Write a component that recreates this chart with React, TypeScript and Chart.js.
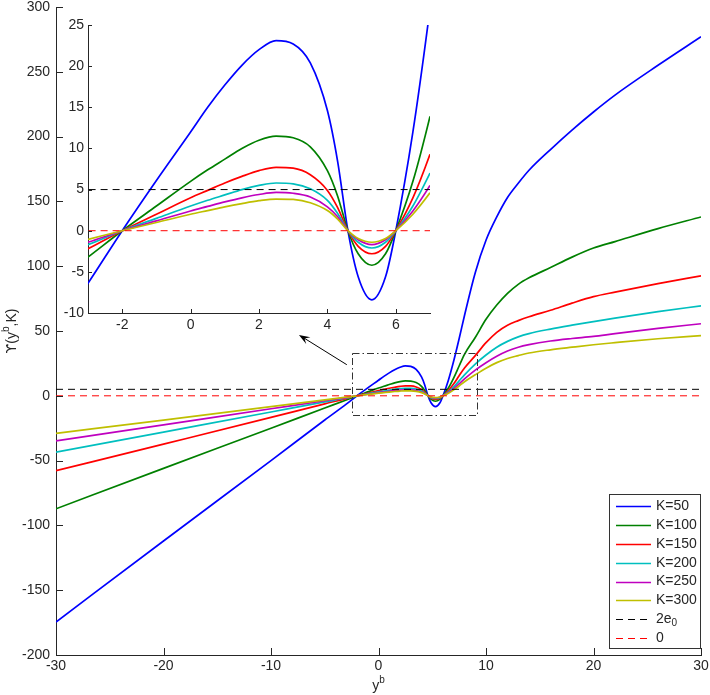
import { useEffect, useRef } from 'react';
import { Chart, registerables } from 'chart.js';

Chart.register(...registerables);

// ---------- data ----------
const Y_B = [-30, -20, -10, -5, -3, -2, -1, 0, 0.5, 1, 1.5, 2, 2.5, 3, 3.5, 4, 4.3, 4.6, 4.9, 5.3, 5.7, 6, 6.5, 7, 7.5, 8, 9, 10, 11, 12, 13, 14, 16, 18, 20, 22, 26, 30];

const K50 = [-174.5, -112, -50, -18.7, -6.4, 0, 6.1, 12, 15, 17.7, 20.1, 22, 23.1, 22.7, 20.4, 14.6, 8.4, 0, -5.6, -8.4, -5.6, 0, 12, 27, 44, 62, 95, 120, 138, 153, 164, 174, 190, 205, 219, 232, 255, 277];
const K100 = [-87.2, -56, -25, -9.4, -3.2, 0, 3, 6, 7.4, 8.7, 10, 11, 11.5, 11.3, 10.2, 7.3, 4.2, 0, -2.8, -4.2, -2.8, 0, 6, 13.9, 23, 32, 45, 59, 70, 79, 86, 91, 99, 107, 114, 119, 129, 138];
const K150 = [-57.8, -37.3, -16.7, -6.2, -2.2, 0, 2, 4, 4.9, 5.8, 6.6, 7.3, 7.7, 7.6, 6.8, 4.9, 2.8, 0, -1.9, -2.8, -1.9, 0, 4, 9.3, 15.5, 21.5, 31, 41, 49, 54.5, 58, 61, 66, 71.5, 76.5, 80, 86.5, 92.6];
const K200 = [-43.5, -28, -12.5, -4.7, -1.7, 0, 1.5, 3, 3.7, 4.35, 5, 5.5, 5.8, 5.7, 5.1, 3.7, 2.1, 0, -1.4, -2.1, -1.4, 0, 3, 7, 11.5, 16.2, 24.5, 31.5, 37.5, 42, 45.5, 48, 51.5, 54.5, 57.3, 60, 65, 69.4];
const K250 = [-34.8, -22.4, -10, -3.8, -1.4, 0, 1.2, 2.4, 2.95, 3.5, 4, 4.4, 4.65, 4.55, 4.1, 2.9, 1.7, 0, -1.1, -1.7, -1.1, 0, 2.4, 5.5, 9.2, 13, 19.8, 25.5, 30.5, 34.5, 37.5, 39.5, 42.3, 44.2, 45.8, 48, 52, 55.6];
const K300 = [-29, -18.7, -8.3, -3.1, -1.05, 0, 1, 2, 2.45, 2.9, 3.3, 3.65, 3.85, 3.8, 3.4, 2.45, 1.4, 0, -0.95, -1.4, -0.95, 0, 2, 4.6, 7.6, 10.8, 16.2, 21.3, 25.6, 28.8, 31, 33, 35.5, 37.5, 39.4, 41, 44, 46.5];

const SERIES = [K50, K100, K150, K200, K250, K300];
const SERIES_LABELS = ['K=50', 'K=100', 'K=150', 'K=200', 'K=250', 'K=300'];
const SERIES_COLORS = ['#0000ff', '#008000', '#ff0000', '#00bfbf', '#bf00bf', '#bfbf00'];

const REF_X = [-30, 30];
const TWO_E0 = 5;
const ZERO = 0;
const REF_LABELS = ['2e₀', '0'];
const REF_COLORS = ['#000000', '#ff0000'];

const MAIN_X_TICKS = [-30, -20, -10, 0, 10, 20, 30];
const MAIN_Y_TICKS = [-200, -150, -100, -50, 0, 50, 100, 150, 200, 250, 300];
const INSET_X_TICKS = [-2, 0, 2, 4, 6];
const INSET_Y_TICKS = [-10, -5, 0, 5, 10, 15, 20, 25];

// zoom rectangle and arrow (data units of the main axes)
const ZOOM_BOX = { xMin: -2.5, xMax: 9.1, yMin: -15, yMax: 33 };
const ARROW = { fromX: -2.95, fromY: 24, toX: -7.4, toY: 47 };

// ---------- styling ----------
const FONT_FAMILY = '"Liberation Sans Narrow", "Liberation Sans", Arial, "DejaVu Sans", sans-serif';
const SYMBOL_FONT = '"DejaVu Sans", "Noto Sans", sans-serif';
const INK = '#262626';

type Part = { t: string; sup?: boolean; sub?: boolean; sym?: boolean };

function drawRich(ctx: CanvasRenderingContext2D, parts: Part[], x: number, y: number, size: number, align: 'center' | 'left') {
  const fontFor = (p: Part) =>
    `${p.sup || p.sub ? Math.round(size * 0.72) : size}px ${p.sym ? SYMBOL_FONT : FONT_FAMILY}`;
  let total = 0;
  const widths = parts.map((p) => {
    ctx.font = fontFor(p);
    const w = ctx.measureText(p.t).width;
    total += w;
    return w;
  });
  let cx = align === 'center' ? x - total / 2 : x;
  ctx.textAlign = 'left';
  ctx.textBaseline = 'middle';
  parts.forEach((p, i) => {
    ctx.font = fontFor(p);
    const dy = p.sup ? -size * 0.38 : p.sub ? size * 0.3 : 0;
    ctx.fillText(p.t, cx, y + dy);
    cx += widths[i];
  });
}

function labelParts(label: string): Part[] {
  if (label.includes('₀')) {
    const [a, b] = label.split('₀');
    const parts: Part[] = [{ t: a }, { t: '0', sub: true }];
    if (b) parts.push({ t: b });
    return parts;
  }
  return [{ t: label }];
}

function inwardTicks(len: number) {
  return {
    id: 'inwardTicks',
    afterDraw(chart: any) {
      const { ctx, chartArea, scales } = chart;
      const xs = scales.x;
      const ys = scales.y;
      ctx.save();
      ctx.strokeStyle = INK;
      ctx.lineWidth = 1;
      ctx.beginPath();
      for (const t of xs.ticks) {
        const px = Math.round(xs.getPixelForValue(t.value)) + 0.5;
        ctx.moveTo(px, chartArea.bottom);
        ctx.lineTo(px, chartArea.bottom - len);
      }
      for (const t of ys.ticks) {
        const py = Math.round(ys.getPixelForValue(t.value)) + 0.5;
        ctx.moveTo(chartArea.left, py);
        ctx.lineTo(chartArea.left + len, py);
      }
      ctx.stroke();
      ctx.restore();
    },
  };
}

const mainDecor = {
  id: 'mainDecor',
  afterDraw(chart: any) {
    const { ctx, chartArea, scales } = chart;
    const xs = scales.x;
    const ys = scales.y;
    ctx.save();

    // dash-dot zoom rectangle
    const x0 = xs.getPixelForValue(ZOOM_BOX.xMin);
    const x1 = xs.getPixelForValue(ZOOM_BOX.xMax);
    const y0 = ys.getPixelForValue(ZOOM_BOX.yMax);
    const y1 = ys.getPixelForValue(ZOOM_BOX.yMin);
    ctx.strokeStyle = '#333';
    ctx.lineWidth = 1;
    ctx.setLineDash([7, 3, 1.5, 3]);
    ctx.strokeRect(Math.round(x0) + 0.5, Math.round(y0) + 0.5, Math.round(x1 - x0), Math.round(y1 - y0));
    ctx.setLineDash([]);

    // arrow
    const ax0 = xs.getPixelForValue(ARROW.fromX);
    const ay0 = ys.getPixelForValue(ARROW.fromY);
    const ax1 = xs.getPixelForValue(ARROW.toX);
    const ay1 = ys.getPixelForValue(ARROW.toY);
    const ang = Math.atan2(ay1 - ay0, ax1 - ax0);
    ctx.strokeStyle = '#000';
    ctx.fillStyle = '#000';
    ctx.beginPath();
    ctx.moveTo(ax0, ay0);
    ctx.lineTo(ax1 - 6 * Math.cos(ang), ay1 - 6 * Math.sin(ang));
    ctx.stroke();
    const hl = 11;
    const hw = 4;
    ctx.beginPath();
    ctx.moveTo(ax1, ay1);
    ctx.lineTo(ax1 - hl * Math.cos(ang) + hw * Math.sin(ang), ay1 - hl * Math.sin(ang) - hw * Math.cos(ang));
    ctx.lineTo(ax1 - 0.6 * hl * Math.cos(ang), ay1 - 0.6 * hl * Math.sin(ang));
    ctx.lineTo(ax1 - hl * Math.cos(ang) - hw * Math.sin(ang), ay1 - hl * Math.sin(ang) + hw * Math.cos(ang));
    ctx.closePath();
    ctx.fill();

    // axis titles
    ctx.fillStyle = INK;
    drawRich(ctx, [{ t: 'y' }, { t: 'b', sup: true }], (chartArea.left + chartArea.right) / 2, 686, 14, 'center');
    ctx.save();
    ctx.translate(12, (chartArea.top + chartArea.bottom) / 2);
    ctx.rotate(-Math.PI / 2);
    drawRich(ctx, [{ t: 'ϒ', sym: true }, { t: '(y' }, { t: 'b', sup: true }, { t: ',K)' }], 0, 0, 14, 'center');
    ctx.restore();

    // legend
    const ds = chart.data.datasets;
    const rowH = 18.8;
    const right = chartArea.right - 1;
    const bottom = chartArea.bottom - 7;
    const left = right - 91;
    const top = bottom - 10 - (ds.length - 1) * rowH - 12;
    ctx.fillStyle = '#fff';
    ctx.fillRect(left, top, right - left, bottom - top);
    ctx.strokeStyle = '#333';
    ctx.lineWidth = 1;
    ctx.strokeRect(Math.round(left) + 0.5, Math.round(top) + 0.5, Math.round(right - left), Math.round(bottom - top));
    ds.forEach((d: any, i: number) => {
      const cy = top + 12 + i * rowH;
      ctx.strokeStyle = d.borderColor;
      ctx.lineWidth = d.borderWidth;
      ctx.setLineDash(d.borderDash || []);
      ctx.beginPath();
      ctx.moveTo(left + 7, Math.round(cy) + 0.5);
      ctx.lineTo(left + 42, Math.round(cy) + 0.5);
      ctx.stroke();
      ctx.setLineDash([]);
      ctx.fillStyle = INK;
      drawRich(ctx, labelParts(d.label), left + 47, cy, 14, 'left');
    });
    ctx.restore();
  },
};

function buildDatasets() {
  const curves = SERIES.map((vals, i) => ({
    label: SERIES_LABELS[i],
    data: Y_B.map((x, j) => ({ x, y: vals[j] })),
    borderColor: SERIES_COLORS[i],
    borderWidth: 1.7,
    pointRadius: 0,
    cubicInterpolationMode: 'monotone' as const,
    fill: false,
    order: 10 - i,
  }));
  const refs = [TWO_E0, ZERO].map((level, i) => ({
    label: REF_LABELS[i],
    data: REF_X.map((x) => ({ x, y: level })),
    borderColor: REF_COLORS[i],
    borderWidth: 1,
    borderDash: [7, 5],
    pointRadius: 0,
    fill: false,
    order: 2 - i,
  }));
  return [...curves, ...refs];
}

function scaleOpts(min: number, max: number, tickVals: number[], axis: 'x' | 'y', fitSize: number, pad: number) {
  return {
    type: 'linear' as const,
    min,
    max,
    afterBuildTicks: (s: any) => {
      s.ticks = tickVals.map((v) => ({ value: v }));
    },
    afterFit: (s: any) => {
      if (axis === 'x') s.height = fitSize;
      else s.width = fitSize;
      s.paddingTop = 0;
      s.paddingBottom = 0;
      s.paddingLeft = 0;
      s.paddingRight = 0;
    },
    grid: { display: false, drawTicks: false },
    border: { display: true, color: INK, width: 1 },
    ticks: {
      color: INK,
      padding: pad,
      autoSkip: false,
      maxRotation: 0,
      font: { family: FONT_FAMILY, size: 14 },
      callback: (v: any) => String(v),
    },
  };
}

export default function App() {
  const mainRef = useRef<HTMLCanvasElement>(null);
  const insetRef = useRef<HTMLCanvasElement>(null);

  useEffect(() => {
    const main = new Chart(mainRef.current as HTMLCanvasElement, {
      type: 'line',
      data: { datasets: buildDatasets() as any },
      options: {
        animation: false,
        responsive: false,
        devicePixelRatio: 1,
        layout: { padding: { left: 0, right: 9, top: 7, bottom: 0 } },
        plugins: { legend: { display: false }, tooltip: { enabled: false } },
        scales: {
          x: scaleOpts(-30, 30, MAIN_X_TICKS, 'x', 40, 3) as any,
          y: scaleOpts(-200, 300, MAIN_Y_TICKS, 'y', 56, 6) as any,
        },
      },
      plugins: [inwardTicks(7), mainDecor],
    });

    const inset = new Chart(insetRef.current as HTMLCanvasElement, {
      type: 'line',
      data: { datasets: buildDatasets() as any },
      options: {
        animation: false,
        responsive: false,
        devicePixelRatio: 1,
        layout: { padding: { left: 0, right: 10, top: 10, bottom: 0 } },
        plugins: { legend: { display: false }, tooltip: { enabled: false } },
        scales: {
          x: scaleOpts(-3, 7, INSET_X_TICKS, 'x', 32, 4) as any,
          y: scaleOpts(-10, 25, INSET_Y_TICKS, 'y', 48, 4) as any,
        },
      },
      plugins: [inwardTicks(4)],
    });

    return () => {
      main.destroy();
      inset.destroy();
    };
  }, []);

  return (
    <div style={{ position: 'absolute', left: 0, top: 0, width: 710, height: 695, background: '#fff' }}>
      <canvas ref={mainRef} width={710} height={695} style={{ position: 'absolute', left: 0, top: 0, width: 710, height: 695 }} />
      <canvas ref={insetRef} width={400} height={330} style={{ position: 'absolute', left: 40, top: 15, width: 400, height: 330 }} />
    </div>
  );
}
